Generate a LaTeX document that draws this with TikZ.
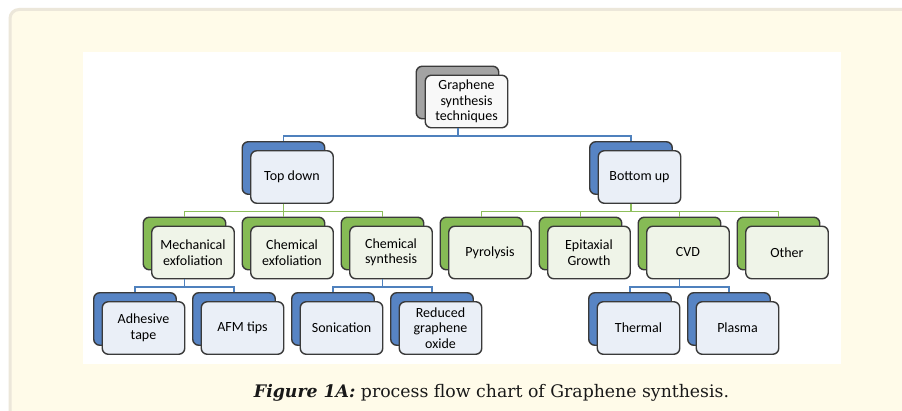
\documentclass[tikz,border=0pt]{standalone}
\usepackage{fontspec}
\newfontfamily\nodefont{Carlito}
\newfontfamily\capfont{DejaVu Serif}
\usetikzlibrary{positioning,shadows}

\definecolor{paper}{HTML}{FFFBE9}
\definecolor{rim}{HTML}{ECE7DA}
\definecolor{linkblue}{HTML}{4F81BD}
\definecolor{linkgreen}{HTML}{8DBE5B}
\definecolor{backblue}{HTML}{5784C4}
\definecolor{backgreen}{HTML}{86BB55}
\definecolor{backgray}{HTML}{A3A3A3}
\definecolor{faceblue}{HTML}{EAEFF7}
\definecolor{facegreen}{HTML}{EFF4E8}
\definecolor{facegray}{HTML}{F8F8F8}
\definecolor{edgegray}{HTML}{3A3A3A}

\begin{document}
\begin{tikzpicture}[x=1pt,y=-1pt,node distance=75.5pt and 99pt,on grid,
					tech node/.style={draw=edgegray,line width=1.4pt,rounded corners=6pt,
						minimum width=82.5pt,minimum height=52.5pt,inner sep=0pt,align=center,
						font=\nodefont\fontsize{14}{15.5}\selectfont},
					blue node/.style={tech node,fill=faceblue,copy shadow={shadow xshift=-8.5pt,
						shadow yshift=9pt,fill=backblue,draw=edgegray,line width=1.4pt}},
					green node/.style={tech node,fill=facegreen,copy shadow={shadow xshift=-8.5pt,
						shadow yshift=9pt,fill=backgreen,draw=edgegray,line width=1.4pt}},
					gray node/.style={tech node,fill=facegray,copy shadow={shadow xshift=-9pt,
						shadow yshift=9pt,fill=backgray,draw=edgegray,line width=1.4pt}},
					tree link/.style={line width=1.3pt,to path={([xshift=-8.5pt]\tikztostart.south)
						-- ++(0,-7.5pt) -| ([shift={(-8.5pt,9pt)}]\tikztotarget.north)}},
					blue link/.style={tree link,draw=linkblue},
					green link/.style={tree link,draw=linkgreen}]
					\useasboundingbox (0,0) rectangle (902,411);
					\fill[white] (0,0) rectangle (902,411);
					\draw[rim,line width=3pt,fill=paper,rounded corners=9pt] (10,9.5) rectangle (925,435);
					\fill[white] (83,52) rectangle (841,364);

					\node[gray node] (root) at (466.5,101.5) {Graphene\\synthesis\\techniques};
					\node[blue node] (td) [below left=75.5pt and 174.5pt of root] {Top down};
					\node[blue node] (bu) [below right=75.5pt and 173pt of root] {Bottom up};
					\node[green node] (chemexf) [below=of td] {Chemical\\exfoliation};
					\node[green node] (mech) [left=of chemexf] {Mechanical\\exfoliation};
					\node[green node] (chemsyn) [right=of chemexf] {Chemical\\synthesis};
					\node[green node] (pyro) [right=of chemsyn] {Pyrolysis};
					\node[green node] (epi) [right=of pyro] {Epitaxial\\Growth};
					\node[green node] (cvd) [right=of epi] {CVD};
					\node[green node] (other) [right=of cvd] {Other};
					\node[blue node] (tape) [below left=75.5pt and 49.5pt of mech] {Adhesive\\tape};
					\node[blue node] (afm) [right=of tape] {AFM tips};
					\node[blue node] (sonic) [right=of afm] {Sonication};
					\node[blue node] (rgo) [right=of sonic] {Reduced\\graphene\\oxide};
					\node[blue node] (thermal) [below left=75.5pt and 49.5pt of cvd] {Thermal};
					\node[blue node] (plasma) [right=of thermal] {Plasma};

					\path[blue link] (root) edge (td) edge (bu);
					\path[green link] (td) edge (mech) edge (chemexf) edge (chemsyn);
					\path[green link] (bu) edge (pyro) edge (epi) edge (cvd) edge (other);
					\path[blue link] (mech) edge (tape) edge (afm);
					\path[blue link] (chemsyn) edge (sonic) edge (rgo);
					\path[blue link] (cvd) edge (thermal) edge (plasma);

					\node[anchor=base,font=\capfont\fontsize{17.3}{20}\selectfont,text=black!90] (caption)
						at (491.5,397) {\textbf{\textit{Figure 1A:}} process flow chart of Graphene synthesis.};
				\end{tikzpicture}
\end{document}
